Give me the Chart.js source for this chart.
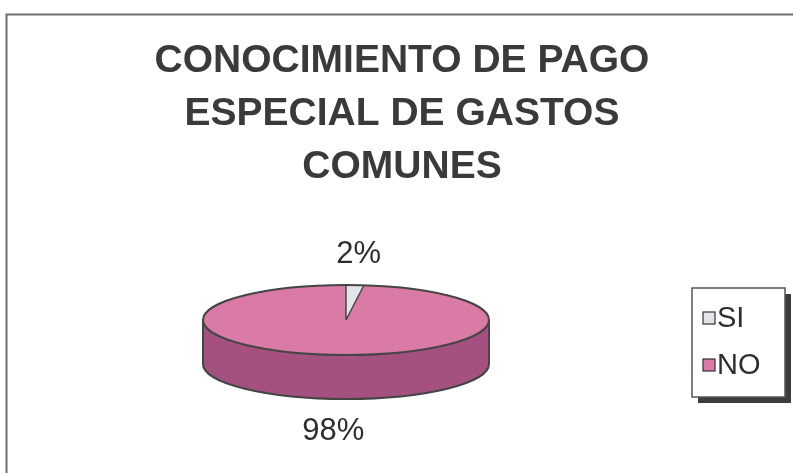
<!DOCTYPE html>
<html><head><meta charset="utf-8">
<script src="https://cdn.jsdelivr.net/npm/chart.js@4"></script>
<style>html,body{margin:0;padding:0;background:#fff;}#wrap{position:relative;width:793px;height:473px;}</style>
</head><body><div id="wrap"><canvas id="c" width="793" height="473"></canvas></div>
<script>
const titleLines = ['CONOCIMIENTO DE PAGO', 'ESPECIAL DE GASTOS', 'COMUNES'];
const categories = ['SI', 'NO'];
const values = [2, 98];
const valueLabels = ['2%', '98%'];

const topColors = ['#e2e4ea', '#d97ba6'];
const sideColors = ['#b4b6be', '#a4517f'];
const FONT = "'Liberation Sans', Arial, sans-serif";
const K = 0.245, DEPTH = 44;

function frontRanges(s, e) {
  const out = [];
  for (let k = -2; k <= 2; k++) {
    const a = Math.max(s, 2 * Math.PI * k), b = Math.min(e, 2 * Math.PI * k + Math.PI);
    if (b > a) out.push([a, b]);
  }
  return out;
}

const pie3d = {
  id: 'pie3d',
  beforeDatasetsDraw(chart) {
    const ctx = chart.ctx;
    const arcs = chart.getDatasetMeta(0).data;
    const cx = arcs[0].x, cy = arcs[0].y, rx = arcs[0].outerRadius, ry = rx * K;
    // side walls
    arcs.forEach((a, i) => {
      frontRanges(a.startAngle, a.endAngle).forEach(([s, e]) => {
        ctx.beginPath();
        ctx.ellipse(cx, cy, rx, ry, 0, s, e, false);
        ctx.ellipse(cx, cy + DEPTH, rx, ry, 0, e, s, true);
        ctx.closePath();
        ctx.fillStyle = sideColors[i];
        ctx.fill();
      });
    });
    ctx.strokeStyle = '#454545';
    ctx.lineWidth = 2;
    ctx.beginPath();
    ctx.ellipse(cx, cy + DEPTH, rx, ry, 0, 0, Math.PI, false);
    ctx.stroke();
    ctx.beginPath();
    ctx.moveTo(cx - rx, cy); ctx.lineTo(cx - rx, cy + DEPTH);
    ctx.moveTo(cx + rx, cy); ctx.lineTo(cx + rx, cy + DEPTH);
    ctx.stroke();
    ctx.save();
    ctx.translate(cx, cy); ctx.scale(1, K); ctx.translate(-cx, -cy);
  },
  afterDatasetsDraw(chart) {
    const ctx = chart.ctx;
    ctx.restore();
    const arcs = chart.getDatasetMeta(0).data;
    const cx = arcs[0].x, cy = arcs[0].y, rx = arcs[0].outerRadius, ry = rx * K;
    ctx.strokeStyle = '#454545';
    ctx.lineWidth = 2;
    ctx.beginPath();
    ctx.ellipse(cx, cy, rx, ry, 0, 0, Math.PI * 2);
    ctx.stroke();
    ctx.lineWidth = 1.5;
    ctx.beginPath();
    arcs.forEach(a => {
      ctx.moveTo(cx, cy);
      ctx.lineTo(cx + rx * Math.cos(a.startAngle), cy + ry * Math.sin(a.startAngle));
    });
    ctx.stroke();
    // value labels
    ctx.fillStyle = '#2e2e2e';
    ctx.font = '31px ' + FONT;
    ctx.textAlign = 'center';
    ctx.textBaseline = 'middle';
    arcs.forEach((a, i) => {
      const m = (a.startAngle + a.endAngle) / 2;
      const sn = Math.sin(m), cs = Math.cos(m);
      const x = cx + (rx + 60) * cs;
      const y = sn < 0 ? cy + (ry + 31) * sn : cy + (ry + DEPTH + 33) * sn;
      ctx.fillText(valueLabels[i], x, y);
    });
  },
  afterDraw(chart) {
    const ctx = chart.ctx;
    // frame
    ctx.strokeStyle = '#6e6e6e';
    ctx.lineWidth = 2;
    ctx.beginPath();
    ctx.moveTo(6.5, 473); ctx.lineTo(6.5, 14.5); ctx.lineTo(793, 14.5);
    ctx.stroke();
    // title
    ctx.fillStyle = '#3a3a3a';
    ctx.font = 'bold 39px ' + FONT;
    ctx.textAlign = 'center';
    ctx.textBaseline = 'middle';
    titleLines.forEach((t, i) => ctx.fillText(t, 402, 61 + i * 53));
    // legend
    const lx = 692, ly = 288, lw = 93, lh = 109;
    ctx.fillStyle = '#3c3c3c';
    ctx.fillRect(lx + 6, ly + 6, lw, lh);
    ctx.fillStyle = '#ffffff';
    ctx.fillRect(lx, ly, lw, lh);
    ctx.strokeStyle = '#555';
    ctx.lineWidth = 1.5;
    ctx.strokeRect(lx, ly, lw, lh);
    ctx.font = '29px ' + FONT;
    ctx.textAlign = 'left';
    categories.forEach((c, i) => {
      const yy = 318 + i * 47;
      ctx.fillStyle = topColors[i];
      ctx.fillRect(703, yy - 6, 12, 12);
      ctx.strokeStyle = '#333';
      ctx.lineWidth = 1.2;
      ctx.strokeRect(703, yy - 6, 12, 12);
      ctx.fillStyle = '#2e2e2e';
      ctx.fillText(c, 717, yy + 1);
    });
  }
};

new Chart(document.getElementById('c'), {
  type: 'pie',
  data: { labels: categories, datasets: [{ data: values, backgroundColor: topColors, borderWidth: 0 }] },
  options: {
    responsive: false, animation: false, devicePixelRatio: 1, events: [],
    layout: { padding: { left: 203, right: 304, top: 177, bottom: 10 } },
    plugins: { legend: { display: false }, tooltip: { enabled: false }, title: { display: false } }
  },
  plugins: [pie3d]
});
</script>
</body></html>
